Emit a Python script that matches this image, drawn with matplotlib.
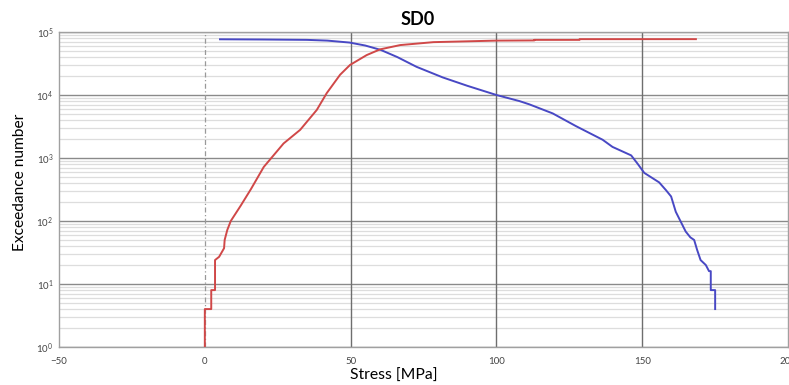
import matplotlib
matplotlib.use("Agg")
import matplotlib.pyplot as plt
from matplotlib.ticker import LogLocator, FixedLocator, NullFormatter

# Blue: exceedance (stress > x)
blue_x = [5.2, 20, 35, 42, 49.6, 55, 60.3, 66, 72.6, 81.6, 90, 100, 107.9, 111.3,
          119.3, 127.3, 136.4, 139.8, 146.2, 148.5, 150.7, 155.8, 158.1, 159.9,
          161.5, 164.9, 166.5, 167.8, 168.8, 170, 171.8, 172.9, 173.5, 173.5, 175, 175]
blue_y = [7.66e4, 7.6e4, 7.5e4, 7.3e4, 6.8e4, 6.1e4, 5.2e4, 4.0e4, 2.8e4, 1.9e4,
          1.4e4, 1.0e4, 8.0e3, 7.1e3, 5.1e3, 3.2e3, 1.95e3, 1.5e3, 1.1e3, 800,
          580, 410, 310, 245, 140, 68, 55, 50, 35, 24, 20, 16, 16, 8, 8, 4]

# Red: cumulative count (stress < x)
red_x = [0, 0, 2.2, 2.2, 3.5, 3.5, 4.9, 6.6, 6.8, 7.7, 8.9, 12.3, 15.8, 20.2, 27,
         32.7, 38.4, 41.8, 46.4, 49.8, 55.5, 60.1, 67, 78.4, 100, 113, 113,
         128.5, 128.5, 168.4]
red_y = [1, 4, 4, 8, 8, 24, 27, 37, 50, 72, 100, 175, 320, 720, 1.7e3, 2.8e3,
         5.8e3, 1.07e4, 2.1e4, 3.0e4, 4.3e4, 5.3e4, 6.2e4, 6.9e4, 7.3e4, 7.35e4,
         7.5e4, 7.5e4, 7.7e4, 7.7e4]

x_ticks = [-50, 0, 50, 100, 150, 200]
title = "SD0"
x_label = "Stress [MPa]"
y_label = "Exceedance number"

plt.rcParams['font.family'] = ['Lato', 'DejaVu Sans']
fig = plt.figure(figsize=(7.89, 3.85), dpi=100)
ax = fig.add_axes([0.0748, 0.0987, 0.9240, 0.8182])

ax.set_yscale('log')
ax.set_xlim(-50, 200)
ax.set_ylim(1, 1e5)

# grid
ax.yaxis.set_major_locator(LogLocator(base=10, numticks=10))
ax.yaxis.set_minor_locator(LogLocator(base=10, subs=range(2, 10), numticks=20))
ax.yaxis.set_minor_formatter(NullFormatter())
ax.grid(which='minor', axis='y', color='#dddddd', lw=0.9)
ax.grid(which='major', axis='y', color='#8a8a8a', lw=1.0)
ax.xaxis.set_major_locator(FixedLocator(x_ticks))
for xv in [50, 100, 150]:
    ax.axvline(xv, color='#6e6e6e', lw=1.0, zorder=1)
ax.axvline(0, color='#999999', lw=0.9, ls=(0, (4, 2, 1, 2)), zorder=1)
ax.set_axisbelow(True)

ax.plot(blue_x, blue_y, color='#4848c4', lw=1.4, zorder=3)
ax.plot(red_x, red_y, color='#d04848', lw=1.4, zorder=3)

for s in ax.spines.values():
    s.set_color('#a0a0a0')
    s.set_linewidth(1.0)

ax.tick_params(which='both', length=0, labelsize=7, colors='#444444', pad=4)
ax.tick_params(axis='x', pad=7)

ax.set_title(title, fontsize=13, fontweight='bold', pad=5, x=0.492)
ax.set_xlabel(x_label, fontsize=11.3)
ax.xaxis.set_label_coords(0.459, -0.068)
ax.set_ylabel(y_label, fontsize=11.2)
ax.yaxis.set_label_coords(-0.044, 0.522)

fig.savefig("out.png", dpi=100)
